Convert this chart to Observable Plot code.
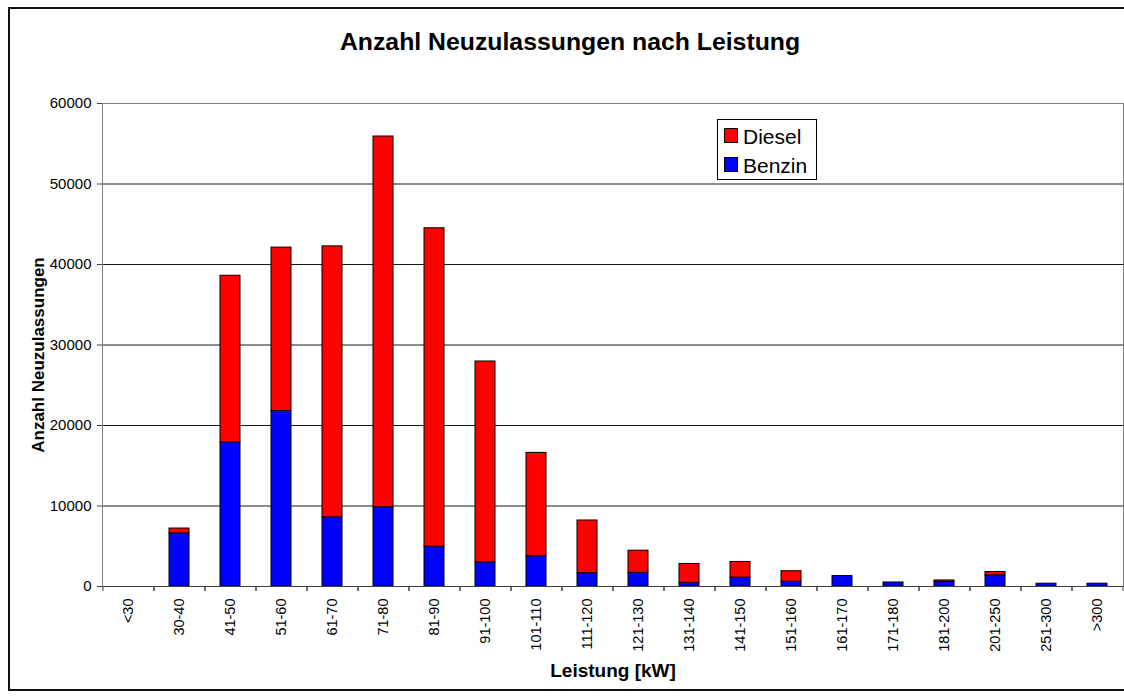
<!DOCTYPE html>
<html>
<head>
<meta charset="utf-8">
<script src="https://cdn.jsdelivr.net/npm/d3@7"></script>
<script src="https://cdn.jsdelivr.net/npm/@observablehq/plot@0.6"></script>
<style>
  html, body { margin: 0; padding: 0; background: #fff; }
  #wrap { position: relative; width: 1124px; height: 698px; overflow: hidden; font-family: "Liberation Sans", Arial, sans-serif; background: #fff; }
  #wrap svg { position: absolute; left: 0; top: 0; }
  #border { position: absolute; left: 8px; top: 7px; width: 1130px; height: 684px; border: 2px solid #111; box-sizing: border-box; pointer-events: none; }
  #title { position: absolute; left: 0; top: 30px; width: 1140px; text-align: center; font-size: 24.8px; line-height: 24.8px; font-weight: bold; color: #000; white-space: nowrap; }
  #legend { position: absolute; left: 717px; top: 119px; width: 100px; height: 61px; border: 1px solid #000; box-sizing: border-box; background: #fff; }
  #legend .sw { position: absolute; left: 6px; width: 14px; height: 15px; border: 1px solid #000; box-sizing: border-box; }
  #legend .lb { position: absolute; left: 25px; font-size: 21px; line-height: 21px; color: #000; white-space: nowrap; }
</style>
</head>
<body>
<div id="wrap"></div>
<script>
// ---- data ----
const categories = ["<30","30-40","41-50","51-60","61-70","71-80","81-90","91-100","101-110","111-120","121-130","131-140","141-150","151-160","161-170","171-180","181-200","201-250","251-300",">300"];
const benzin = [0, 6600, 17900, 21800, 8600, 9850, 4950, 3000, 3750, 1650, 1700, 450, 1100, 600, 1300, 500, 580, 1380, 350, 350];
const diesel = [0, 600, 20700, 20300, 33650, 46050, 39550, 24950, 12850, 6550, 2750, 2350, 1950, 1300, 0, 0, 170, 420, 0, 0];
const series = ["Benzin", "Diesel"];
const seriesColors = ["#0000ff", "#ff0000"];
const yTicks = [0, 10000, 20000, 30000, 40000, 50000, 60000];
const titleText = "Anzahl Neuzulassungen nach Leistung";
const xTitle = "Leistung [kW]";
const yTitle = "Anzahl Neuzulassungen";
const legendOrder = ["Diesel", "Benzin"];

const rows = [];
categories.forEach((c, i) => {
  rows.push({cat: c, type: "Benzin", value: benzin[i]});
  rows.push({cat: c, type: "Diesel", value: diesel[i]});
});

const step = (1124 - 102 - 1) / categories.length;

const chart = Plot.plot({
  width: 1124,
  height: 698,
  marginLeft: 102,
  marginRight: 1,
  marginTop: 103,
  marginBottom: 112,
  style: {fontFamily: '"Liberation Sans", Arial, sans-serif', background: "transparent", color: "#000"},
  x: {domain: categories, paddingInner: 0.6, paddingOuter: 0.3, label: null},
  y: {domain: [0, 60000], label: null},
  color: {domain: series, range: seriesColors},
  marks: [
    Plot.ruleY(yTicks.filter(d => d > 0 && d < 60000), {stroke: "#000", strokeWidth: 1, strokeOpacity: 0.9}),
    Plot.barY(rows.filter(d => d.value > 0), {x: "cat", y: "value", fill: "type", stroke: "#000", strokeWidth: 1, order: series}),
    Plot.frame({stroke: "#808080"}),
    Plot.ruleY([0], {stroke: "#404040"}),
    Plot.axisY({ticks: yTicks, tickSize: 5, tickPadding: 6, fontSize: 15, tickFormat: d => String(d), label: null, stroke: "#404040"}),
    Plot.axisX({tickSize: 5, tickFormat: () => "", label: null, dx: -step / 2, stroke: "#404040"}),
    Plot.axisX({tickSize: 5, tickFormat: () => "", label: null, dx: step / 2, stroke: "#404040"}),
    Plot.axisX({tickSize: 0, tickRotate: -90, tickPadding: 12, fontSize: 14.5, label: null}),
    Plot.text([yTitle], {text: d => d, frameAnchor: "left", textAnchor: "middle", lineAnchor: "middle", dx: -64, dy: 10, rotate: -90, fontWeight: "bold", fontSize: 17}),
    Plot.text([xTitle], {text: d => d, frameAnchor: "bottom", textAnchor: "middle", lineAnchor: "middle", dy: 84, fontWeight: "bold", fontSize: 19})
  ]
});

const wrap = document.getElementById("wrap");
wrap.appendChild(chart);

const border = document.createElement("div");
border.id = "border";
wrap.appendChild(border);

const title = document.createElement("div");
title.id = "title";
title.textContent = titleText;
wrap.appendChild(title);

const legend = document.createElement("div");
legend.id = "legend";
legendOrder.forEach((name, i) => {
  const sw = document.createElement("div");
  sw.className = "sw";
  sw.style.top = (8 + i * 29) + "px";
  sw.style.background = seriesColors[series.indexOf(name)];
  legend.appendChild(sw);
  const lb = document.createElement("div");
  lb.className = "lb";
  lb.style.top = (5.5 + i * 29) + "px";
  lb.textContent = name;
  legend.appendChild(lb);
});
wrap.appendChild(legend);
</script>
</body>
</html>
